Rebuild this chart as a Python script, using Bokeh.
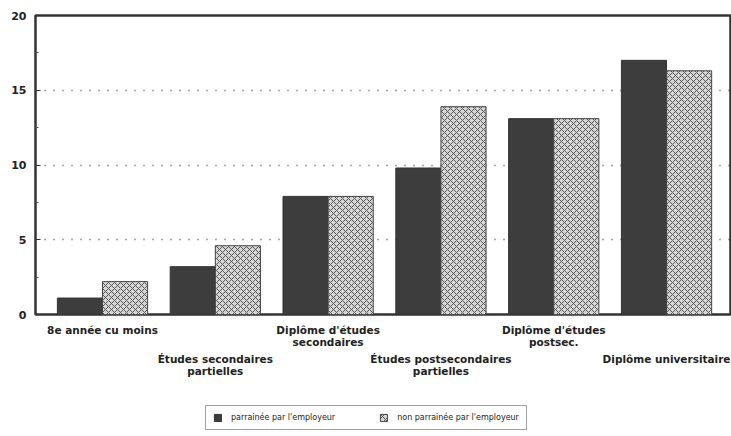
from bokeh.plotting import figure
from bokeh.layouts import column
from bokeh.models import Range1d, Legend, LegendItem, FixedTicker, ColumnDataSource
from bokeh.core.properties import value
from bokeh.transform import dodge
from bokeh.embed import file_html
from bokeh.resources import INLINE

categories = [
    "8e année cu moins",
    "Études secondaires\npartielles",
    "Diplôme d'études\nsecondaires",
    "Études postsecondaires\npartielles",
    "Diplôme d'études\npostsec.",
    "Diplôme universitaire",
]
parrainee = [1.1, 3.2, 7.9, 9.8, 13.1, 17.0]
non_parrainee = [2.2, 4.6, 7.9, 13.9, 13.1, 16.3]
y_ticks = [0, 5, 10, 15, 20]
series_labels = ["parrainée par l'employeur", "non parrainée par l'employeur"]

FONT = "DejaVu Sans"
DARK = dict(fill_color="#3d3d3d", line_color="#333333", line_width=1)
LIGHT = dict(fill_color="#d6d6d6", line_color="#444444", line_width=1,
             hatch_pattern="diagonal_cross", hatch_color="#555555", hatch_scale=6, hatch_weight=1)

xs = list(range(len(categories)))
src = ColumnDataSource(dict(x=xs, a=parrainee, b=non_parrainee))

xr = Range1d(-0.594, 5.567)

# ---- main chart ----
p = figure(width=731, height=321, output_backend="svg", toolbar_location=None,
           x_range=xr, y_range=Range1d(0, 20),
           x_axis_location=None,
           min_border_left=35, min_border_right=1, min_border_top=15, min_border_bottom=7)
p.background_fill_color = "white"
p.border_fill_color = "white"
p.outline_line_color = "#333333"
p.outline_line_width = 2.5

p.xgrid.visible = False
p.ygrid.ticker = FixedTicker(ticks=[5, 10, 15])
p.ygrid.grid_line_color = "#444444"
p.ygrid.grid_line_dash = "1 8"
p.ygrid.grid_line_width = 1.3

ya = p.yaxis[0]
ya.ticker = FixedTicker(ticks=y_ticks, minor_ticks=[2.5, 7.5, 12.5, 17.5])
ya.axis_line_color = None
ya.major_tick_in = 5
ya.major_tick_out = 0
ya.minor_tick_in = 3
ya.minor_tick_out = 0
ya.major_tick_line_color = "#333333"
ya.minor_tick_line_color = "#555555"
ya.major_label_text_font = FONT
ya.major_label_text_font_style = "bold"
ya.major_label_text_font_size = "11px"
ya.major_label_text_color = "#222222"
ya.major_label_standoff = 9

p.vbar(x=dodge("x", -0.2, range=xr), top="a", width=0.4, bottom=0, source=src, **DARK)
p.vbar(x=dodge("x", 0.2, range=xr), top="b", width=0.4, bottom=0, source=src, **LIGHT)

# ---- category labels + legend strip (frame aligned with the chart above) ----
q = figure(width=731, height=115, output_backend="svg", toolbar_location=None,
           x_range=xr, y_range=Range1d(115, 0),
           x_axis_location=None, y_axis_location=None,
           min_border_left=35, min_border_right=1, min_border_top=0, min_border_bottom=0)
q.outline_line_color = None
q.grid.visible = False
q.background_fill_color = "white"
q.border_fill_color = "white"

row_y = [2 if i % 2 == 0 else 31 for i in xs]
lab_src = ColumnDataSource(dict(x=xs, y=row_y, t=categories))
q.text(x="x", y="y", text="t", source=lab_src, text_align="center", text_baseline="top",
       text_font=value(FONT), text_font_style="bold", text_font_size="10.5px",
       text_color="#222222", text_line_height=1.08)

# legend swatches: same bars on a range that keeps them out of view
q.extra_y_ranges = {"hidden": Range1d(100, 200)}
s1 = q.vbar(x=dodge("x", -0.2, range=xr), top="a", width=0.4, bottom=0, source=src,
            y_range_name="hidden", **DARK)
s2 = q.vbar(x=dodge("x", 0.2, range=xr), top="b", width=0.4, bottom=0, source=src,
            y_range_name="hidden", **LIGHT)

legend = Legend(items=[LegendItem(label=series_labels[0], renderers=[s1]),
                       LegendItem(label=series_labels[1], renderers=[s2])],
                orientation="horizontal", location=(170, 6))
legend.label_text_font = FONT
legend.label_text_font_size = "8px"
legend.label_text_color = "#222222"
legend.glyph_width = 9
legend.glyph_height = 9
legend.label_height = 9
legend.spacing = 44
legend.padding = 7
legend.label_standoff = 9
legend.margin = 0
legend.border_line_color = "#444444"
legend.border_line_width = 1.2
legend.background_fill_color = "white"
q.add_layout(legend)

layout = column(p, q, spacing=0)
open("out.html", "w").write(file_html(layout, INLINE))
